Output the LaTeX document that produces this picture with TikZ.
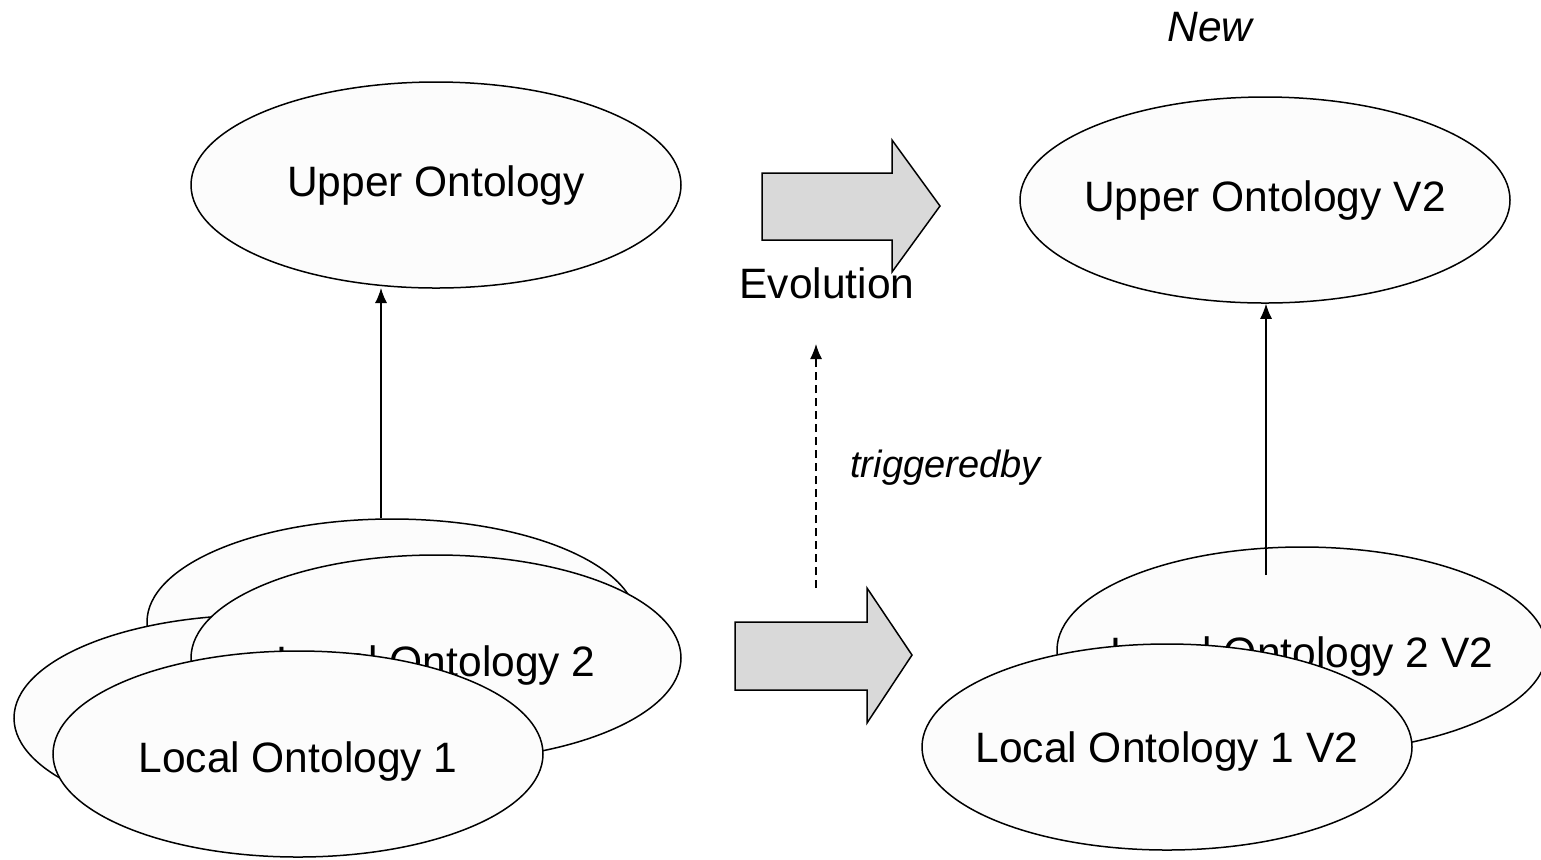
\documentclass[tikz,border=0pt]{standalone}
\usepackage{fontspec}
\setmainfont{Liberation Sans}
\usetikzlibrary{shapes.geometric, arrows.meta}

\definecolor{ontofill}{RGB}{252,252,252}
\definecolor{evofill}{RGB}{217,217,217}

\begin{document}
\begin{tikzpicture}[x=0.5pt, y=-0.5pt, font=\fontsize{21.25}{25}\selectfont]
	\tikzstyle{onto} = [draw, ellipse, fill=ontofill, line width=0.75pt, minimum width=245pt, minimum height=103pt, inner sep=0pt]
	\tikzstyle{link} = [line width=0.6pt, -{Latex[length=7.5pt,width=6pt]}]
	\tikzstyle{evo} = [draw, fill=evofill, line width=0.75pt, line join=miter]
	\useasboundingbox (0,0) rectangle (1541,859);

	% old versions
	\node[onto] (up) at (436,185) [label=center:{Upper Ontology}] {};
	\node[onto] (lback) at (392,622) {};
	\node[onto] (lmid) at (259,718) {};
	\node[onto] (lo2) at (436,658) [label={[yshift=-3.5pt]center:{Local Ontology 2}}] {};
	\node[onto] (lo1) at (298,754) [label={[yshift=-3.5pt]center:{Local Ontology 1}}] {};

	% new versions
	\node (new) at (1210,27) {\itshape New};
	\node[onto] (upv2) at (1265,200) [label=center:{Upper Ontology V2}] {};
	\node[onto] (lo2v2) at (1302,650) [label={[yshift=-3pt]center:{Local Ontology 2 V2}}] {};
	\node[onto] (lo1v2) at (1167,747) [label={[yshift=-2pt]center:{Local Ontology 1 V2}}] {};

	% evolution arrows
	\draw[evo] (762,173) -- (892,173) -- (892,140) -- (940,206) -- (892,272) -- (892,240) -- (762,240) -- cycle;
	\node (evolution) at (827,283) {Evolution};
	\draw[evo] (735,622) -- (867,622) -- (867,588) -- (912,655) -- (867,723) -- (867,690) -- (735,690) -- cycle;

	\coordinate (trigfrom) at (816,588);
	\coordinate (trigto) at (816,344);
	\draw[link, dash pattern=on 4pt off 2.5pt] (trigfrom) -- (trigto);
	\node[anchor=west, inner sep=0pt, font=\fontsize{19}{23}\selectfont] (trig) at (850,468) {\itshape triggeredby};

	\draw[link] (lback.north -| 381,0) -- (381,288);
	\coordinate (v2from) at (1266,575);
	\draw[link] (v2from) -- (v2from |- upv2.south);
\end{tikzpicture}
\end{document}
